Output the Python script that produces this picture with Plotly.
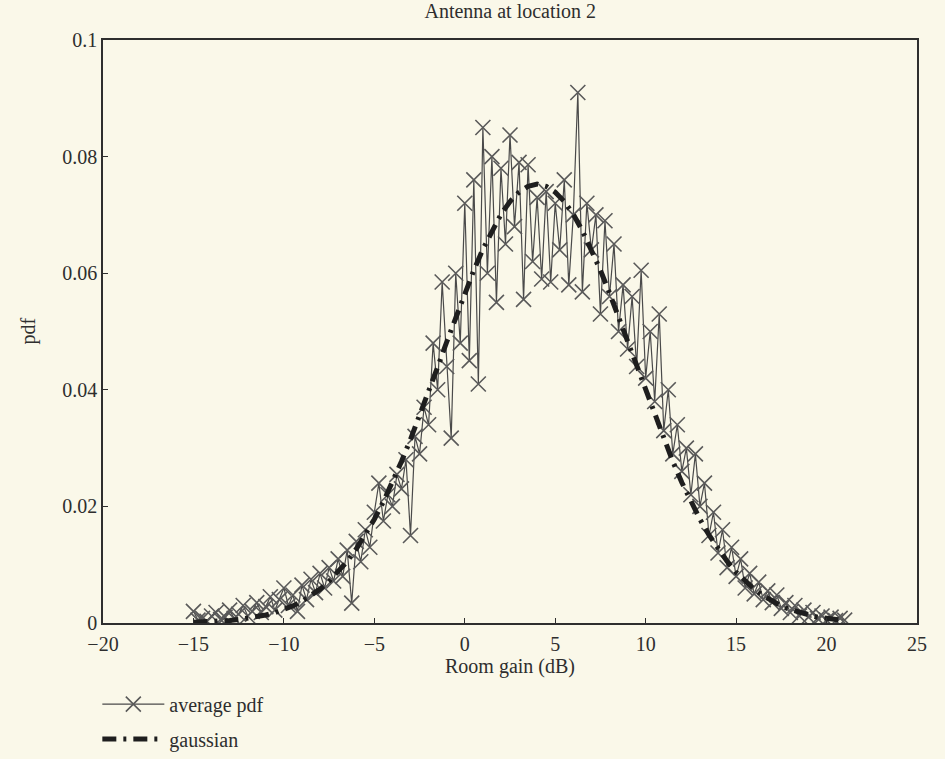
import plotly.graph_objects as go

# ---- data ----
x_start = -15.0
x_step = 0.25
avg_pdf = [
    0.0020, 0.0005, 0.0008, 0.0003,
    0.0012, 0.0018, 0.0006, 0.0010,
    0.0022, 0.0008, 0.0015, 0.0030,
    0.0012, 0.0020, 0.0035, 0.0018,
    0.0028, 0.0045, 0.0022, 0.0040,
    0.0060, 0.0030, 0.0048, 0.0020,
    0.0065, 0.0040, 0.0075, 0.0052,
    0.0085, 0.0060, 0.0095, 0.0072,
    0.0110, 0.0080, 0.0125, 0.0034,
    0.0140, 0.0105, 0.0160, 0.0130,
    0.0190, 0.0240, 0.0175, 0.0220,
    0.0200, 0.0255, 0.0230, 0.0280,
    0.0150, 0.0320, 0.0290, 0.0370,
    0.0340, 0.0480, 0.0400, 0.0585,
    0.0440, 0.0317, 0.0600, 0.0480,
    0.0720, 0.0450, 0.0760, 0.0410,
    0.0850, 0.0600, 0.0800, 0.0550,
    0.0780, 0.0650, 0.0837, 0.0680,
    0.0790, 0.0555, 0.0786, 0.0620,
    0.0730, 0.0590, 0.0740, 0.0585,
    0.0720, 0.0640, 0.0760, 0.0580,
    0.0700, 0.0910, 0.0568, 0.0720,
    0.0640, 0.0700, 0.0530, 0.0690,
    0.0560, 0.0650, 0.0500, 0.0580,
    0.0470, 0.0560, 0.0440, 0.0605,
    0.0420, 0.0500, 0.0380, 0.0530,
    0.0330, 0.0400, 0.0290, 0.0340,
    0.0260, 0.0300, 0.0220, 0.0290,
    0.0200, 0.0240, 0.0150, 0.0190,
    0.0120, 0.0160, 0.0095, 0.0130,
    0.0080, 0.0110, 0.0060, 0.0085,
    0.0050, 0.0070, 0.0040, 0.0055,
    0.0035, 0.0048, 0.0025, 0.0035,
    0.0018, 0.0030, 0.0012, 0.0022,
    0.0010, 0.0018, 0.0008, 0.0012,
    0.0005, 0.0010, 0.0004, 0.0008,
    0.0005,
]
avg_x = [x_start + i * x_step for i in range(len(avg_pdf))]

g_step = 0.5
gauss_pdf = [
    0.00012, 0.00017, 0.00024, 0.00032, 0.00044, 0.00059, 0.00079, 0.00105,
    0.00137, 0.00178, 0.0023, 0.00294, 0.00372, 0.00466, 0.0058, 0.00715,
    0.00873, 0.01058, 0.01269, 0.01511, 0.0178, 0.0208, 0.0241, 0.0277,
    0.0315, 0.0355, 0.0397, 0.0439, 0.0482, 0.0525, 0.0566, 0.0605,
    0.0641, 0.0673, 0.0701, 0.0723, 0.0739, 0.0749, 0.0753, 0.0749,
    0.0739, 0.0723, 0.0701, 0.0673, 0.0641, 0.0605, 0.0566, 0.0525,
    0.0482, 0.0439, 0.0397, 0.0355, 0.0315, 0.0277, 0.0241, 0.0208,
    0.0178, 0.0151, 0.0127, 0.0106, 0.0087, 0.0072, 0.0058, 0.0047,
    0.0037, 0.0029, 0.0023, 0.0018, 0.0014, 0.0010, 0.0008, 0.0006,
    0.00044,
]
gauss_x = [x_start + i * g_step for i in range(len(gauss_pdf))]

x_ticks = [-20, -15, -10, -5, 0, 5, 10, 15, 20, 25]
y_ticks = [0, 0.02, 0.04, 0.06, 0.08, 0.1]
y_ticklabels = ["0", "0.02", "0.04", "0.06", "0.08", "0.1"]

BG = "rgb(250,248,233)"
INK = "#2e2e2e"
FONT = "Liberation Serif, Times New Roman, serif"
FS = 20

fig = go.Figure()
fig.add_trace(go.Scatter(
    x=avg_x, y=avg_pdf, mode="lines+markers", name="average pdf",
    legendgroup="a",
    line=dict(color="#4a4a4a", width=1.2),
    marker=dict(symbol="x-thin-open", size=15, color="#5a5a5a",
                line=dict(color="#5a5a5a", width=1.6)),
))
fig.add_trace(go.Scatter(
    x=gauss_x, y=gauss_pdf, mode="lines", name="gaussian",
    legendgroup="b",
    line=dict(color="#1e1e1e", width=5, dash="14px,7px,3px,7px"),
))

axis_common = dict(
    showline=True, linecolor=INK, linewidth=1.5, mirror=True,
    ticks="inside", ticklen=5, tickcolor=INK, showgrid=False, zeroline=False,
    tickfont=dict(family=FONT, size=FS, color=INK),
)
fig.update_xaxes(range=[-20, 25], tickvals=x_ticks, ticklabelstandoff=2, **axis_common)
fig.update_yaxes(range=[0, 0.1], tickvals=y_ticks, ticktext=y_ticklabels, **axis_common)

fig.add_annotation(text="Room gain (dB)", xref="paper", yref="paper", x=0.5, y=-0.074,
                   xanchor="center", yanchor="middle", showarrow=False,
                   font=dict(family=FONT, size=FS, color=INK))
fig.add_annotation(text="pdf", xref="paper", yref="paper", x=-0.092, y=0.5,
                   xanchor="center", yanchor="middle", showarrow=False, textangle=-90,
                   font=dict(family=FONT, size=FS, color=INK))

fig.update_layout(
    width=945, height=759,
    margin=dict(l=103, r=28, t=40, b=136, autoexpand=False),
    paper_bgcolor=BG, plot_bgcolor=BG,
    title=dict(text="Antenna at location 2", x=0.54, xanchor="center", y=0.995, yanchor="top",
               font=dict(family=FONT, size=FS, color=INK)),
    showlegend=True,
    legend=dict(xref="container", yref="container", x=0.103, y=0.098,
                xanchor="left", yanchor="top", itemwidth=62,
                bgcolor="rgba(0,0,0,0)", traceorder="grouped", tracegroupgap=6,
                font=dict(family=FONT, size=FS, color=INK)),
    font=dict(family=FONT, color=INK),
)

fig.write_html("out.html")
